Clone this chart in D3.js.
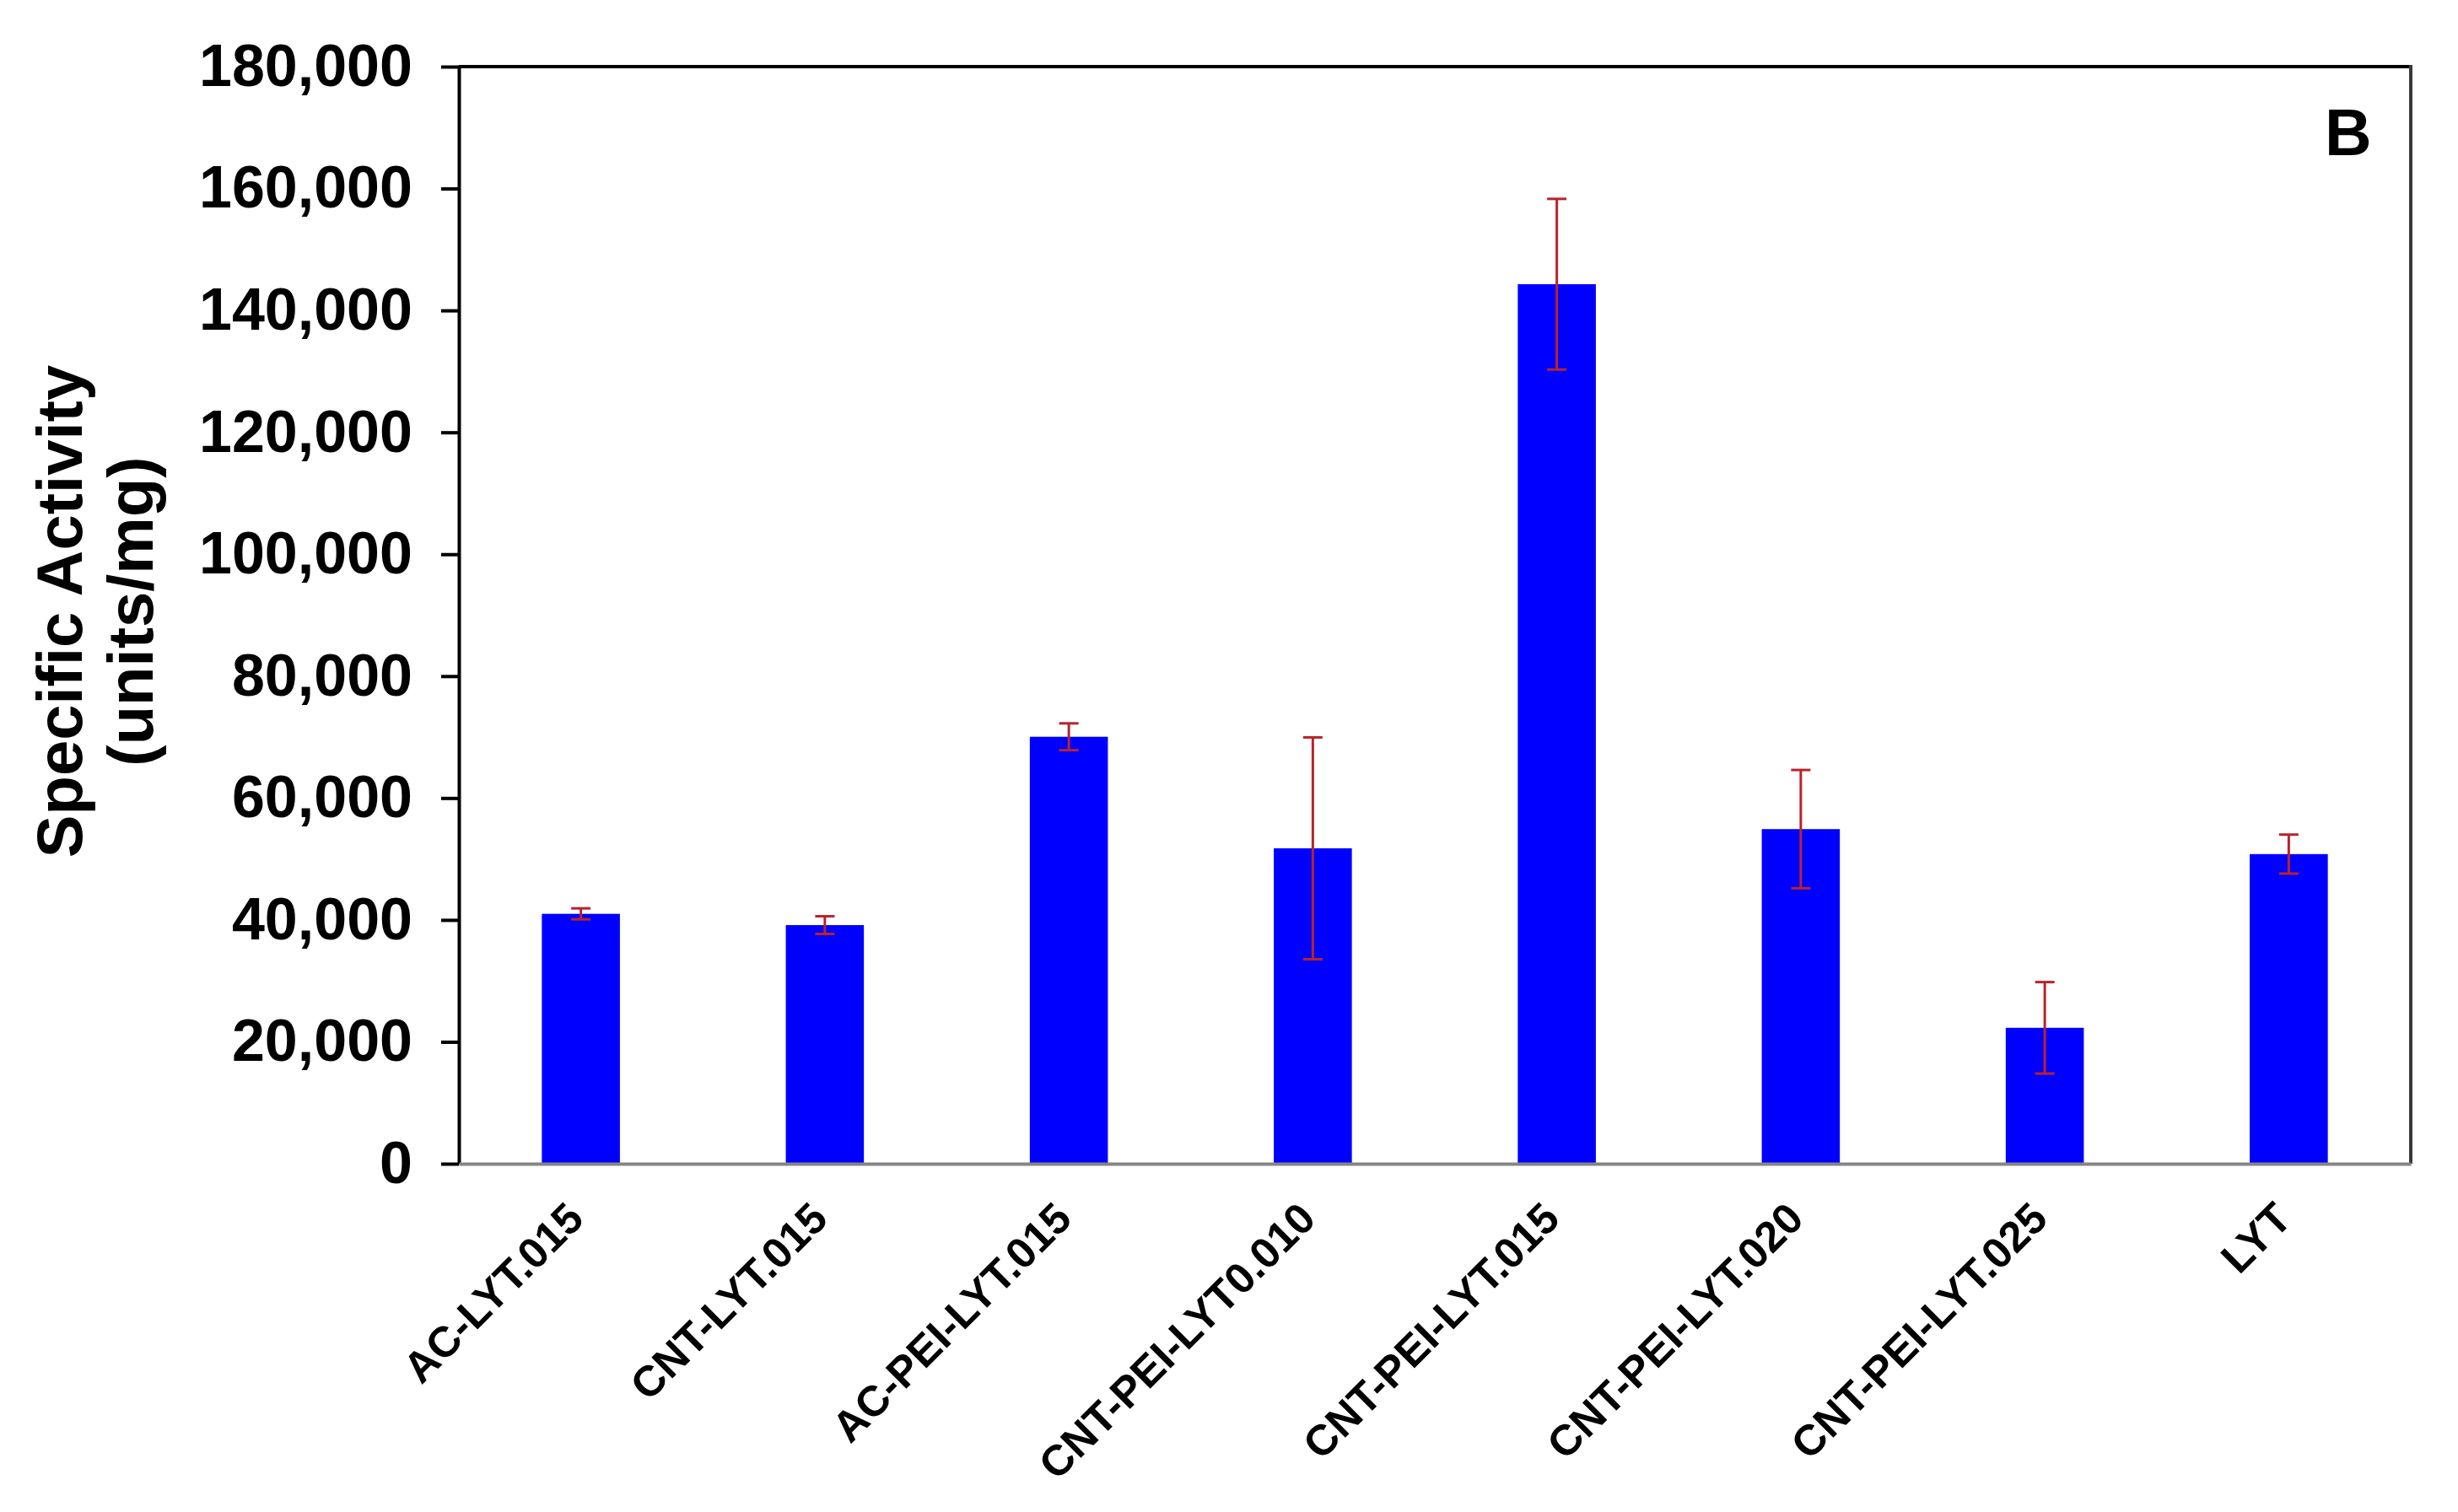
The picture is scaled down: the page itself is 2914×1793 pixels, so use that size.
<!DOCTYPE html>
<html>

<head>
  <script src="https://d3js.org/d3.v7.min.js"></script>
  <style>
    body {
      margin: 0;
      background: #fff;
    }
    text {
      font-family: "Liberation Sans", Arial, sans-serif;
      font-weight: bold;
      fill: #000;
    }
    .bar {
      fill: #0000ff;
    }
    .err {
      stroke: #b8232b;
      stroke-width: 3px;
      fill: none;
    }
  </style>
</head>

<body>
  <svg width="2914" height="1793"></svg>
  <script>
    var categories = ["AC-LYT.015", "CNT-LYT.015", "AC-PEI-LYT.015", "CNT-PEI-LYT0.010",
      "CNT-PEI-LYT.015", "CNT-PEI-LYT.020", "CNT-PEI-LYT.025", "LYT"];
    var activity = [41000, 39150, 70050, 51750, 144300, 54900, 22300, 50800];
    var errors = [900, 1450, 2200, 18200, 14000, 9700, 7500, 3200];
    var yTicks = [0, 20000, 40000, 60000, 80000, 100000, 120000, 140000, 160000, 180000];

    var svg = d3.select("svg"),
      margin = {
        top: 79,
        right: 56,
        bottom: 413,
        left: 544
      },
      width = +svg.attr("width") - margin.left - margin.right,
      height = +svg.attr("height") - margin.top - margin.bottom;

    var data = categories.map(function(c, i) {
      return { name: c, value: activity[i], err: errors[i] };
    });

    var x = d3.scaleBand()
      .domain(categories)
      .range([0, width])
      .paddingInner(0.68)
      .paddingOuter(0.34);

    var y = d3.scaleLinear()
      .domain([0, 180000])
      .range([height, 0]);

    var g = svg.append("g")
      .attr("transform", "translate(" + margin.left + "," + margin.top + ")");

    // plot frame
    g.append("line").attr("x1", 0).attr("x2", width).attr("y1", 0).attr("y2", 0)
      .attr("stroke", "#000").attr("stroke-width", 4);
    g.append("line").attr("x1", width).attr("x2", width).attr("y1", -2).attr("y2", height)
      .attr("stroke", "#3a3a3a").attr("stroke-width", 4);

    g.selectAll(".bar")
      .data(data)
      .enter().append("rect")
      .attr("class", "bar")
      .attr("x", function(d) { return x(d.name); })
      .attr("y", function(d) { return y(d.value); })
      .attr("width", x.bandwidth())
      .attr("height", function(d) { return height - y(d.value); });

    var cap = 11.5;
    var eb = g.selectAll(".eb")
      .data(data)
      .enter().append("g")
      .attr("class", "eb")
      .attr("transform", function(d) { return "translate(" + (x(d.name) + x.bandwidth() / 2) + ",0)"; });
    eb.append("line").attr("class", "err")
      .attr("y1", function(d) { return y(d.value + d.err); })
      .attr("y2", function(d) { return y(d.value - d.err); });
    eb.append("line").attr("class", "err")
      .attr("x1", -cap).attr("x2", cap)
      .attr("y1", function(d) { return y(d.value + d.err); })
      .attr("y2", function(d) { return y(d.value + d.err); });
    eb.append("line").attr("class", "err")
      .attr("x1", -cap).attr("x2", cap)
      .attr("y1", function(d) { return y(d.value - d.err); })
      .attr("y2", function(d) { return y(d.value - d.err); });

    var yAxis = d3.axisLeft(y)
      .tickValues(yTicks)
      .tickFormat(d3.format(","))
      .tickSize(21)
      .tickSizeOuter(0)
      .tickPadding(34);

    var yg = g.append("g").call(yAxis);
    yg.select(".domain").attr("stroke", "#000").attr("stroke-width", 4);
    yg.selectAll(".tick line").attr("stroke", "#000").attr("stroke-width", 4);
    yg.selectAll(".tick text").style("font-size", "70px");

    var xAxis = d3.axisBottom(x).tickSize(0).tickSizeOuter(0);
    var xg = g.append("g")
      .attr("transform", "translate(0," + height + ")")
      .call(xAxis);
    xg.select(".domain").attr("stroke", "#858585").attr("stroke-width", 4);
    xg.selectAll(".tick text")
      .style("font-size", "51px")
      .attr("text-anchor", "end")
      .attr("y", null)
      .attr("dy", null)
      .attr("transform", "translate(6,68) rotate(-45)");

    svg.append("text")
      .attr("transform", "translate(97,725) rotate(-90)")
      .attr("text-anchor", "middle")
      .style("font-size", "76px")
      .text("Specific Activity");
    svg.append("text")
      .attr("transform", "translate(181,725) rotate(-90)")
      .attr("text-anchor", "middle")
      .style("font-size", "76px")
      .text("(units/mg)");

    svg.append("text")
      .attr("x", 2756)
      .attr("y", 184)
      .style("font-size", "77px")
      .text("B");
  </script>
</body>

</html>
